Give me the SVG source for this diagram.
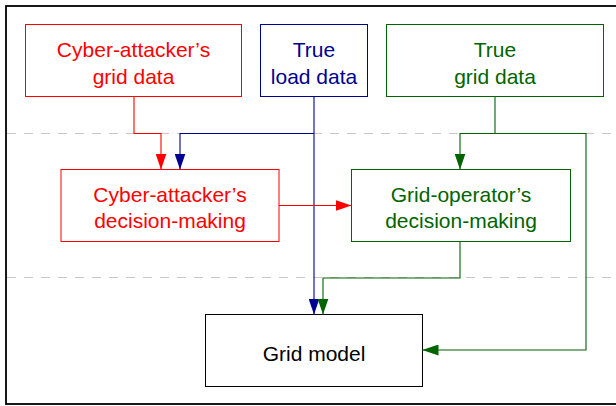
<svg xmlns="http://www.w3.org/2000/svg" width="616" height="406" viewBox="0 0 616 406">
<defs>
<style>
.t{font-family:"Liberation Sans",Arial,sans-serif;font-size:21px;text-anchor:middle}
.red{fill:#ff0000}.blue{fill:#000090}.green{fill:#006400}.blk{fill:#000}
.box{fill:#fff;stroke-width:1}
.c{fill:none;stroke-width:1.1}
</style>
<marker id="mr" markerUnits="userSpaceOnUse" markerWidth="16" markerHeight="11" viewBox="0 0 16 11" refX="16" refY="5.5" orient="auto"><path d="M0 0L16 5.5L0 11z" fill="#ff0000"/></marker>
<marker id="mb" markerUnits="userSpaceOnUse" markerWidth="16" markerHeight="11" viewBox="0 0 16 11" refX="16" refY="5.5" orient="auto"><path d="M0 0L16 5.5L0 11z" fill="#000090"/></marker>
<marker id="mg" markerUnits="userSpaceOnUse" markerWidth="16" markerHeight="11" viewBox="0 0 16 11" refX="16" refY="5.5" orient="auto"><path d="M0 0L16 5.5L0 11z" fill="#006400"/></marker>
</defs>
<rect x="6" y="6" width="630" height="398" fill="#fff" stroke="#000" stroke-width="1.8"/>
<g id="dividers" stroke="#c8c8c8" stroke-width="1" stroke-dasharray="9 8">
<line x1="7" y1="133.5" x2="616" y2="133.5"/>
<line x1="7" y1="277.5" x2="616" y2="277.5"/>
</g>
<g id="attacker-data"><rect class="box" x="25.5" y="24.5" width="216" height="72" stroke="#ff0000"/><text class="t red" x="133.5" y="57">Cyber-attacker’s</text><text class="t red" x="133.5" y="83.5">grid data</text></g>
<g id="load-data"><rect class="box" x="260.5" y="24.5" width="107" height="72" stroke="#000090"/><text class="t blue" x="314" y="57">True</text><text class="t blue" x="314" y="83.5">load data</text></g>
<g id="grid-data"><rect class="box" x="386.5" y="24.5" width="217" height="72" stroke="#006400"/><text class="t green" x="495" y="57">True</text><text class="t green" x="495" y="83.5">grid data</text></g>
<g id="attacker-decision"><rect class="box" x="61" y="169.5" width="218" height="72" stroke="#ff0000"/><text class="t red" x="170" y="201.5">Cyber-attacker’s</text><text class="t red" x="170" y="228">decision-making</text></g>
<g id="operator-decision"><rect class="box" x="351.5" y="169.5" width="219" height="72" stroke="#006400"/><text class="t green" x="461" y="201.5">Grid-operator’s</text><text class="t green" x="461" y="228">decision-making</text></g>
<g id="grid-model"><rect class="box" x="205.5" y="314.5" width="217" height="72" stroke="#000"/><text class="t blk" x="314" y="361">Grid model</text></g>
<g id="connectors">
<path class="c" stroke="#ff0000" d="M134 97V133.5H161V169.5" marker-end="url(#mr)"/>
<path class="c" stroke="#000090" d="M314 97V314.5" marker-end="url(#mb)"/>
<path class="c" stroke="#000090" d="M314 133.5H180V169.5" marker-end="url(#mb)"/>
<path class="c" stroke="#006400" d="M495 97V133.5H460V169.5" marker-end="url(#mg)"/>
<path class="c" stroke="#006400" d="M495 133.5H586V350H422.5" marker-end="url(#mg)"/>
<path class="c" stroke="#ff0000" d="M279 205.5H351.5" marker-end="url(#mr)"/>
<path class="c" stroke="#006400" d="M460 242V278H323V314.5" marker-end="url(#mg)"/>
</g>
</svg>
